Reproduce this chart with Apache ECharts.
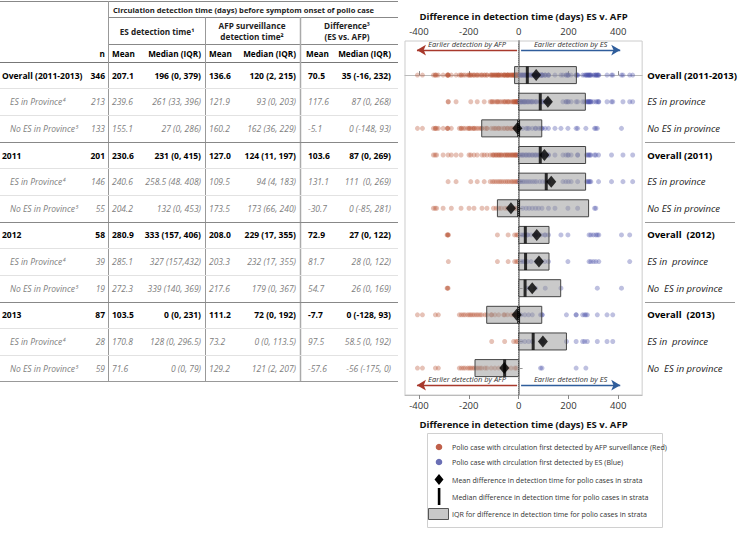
<!DOCTYPE html>
<html><head><meta charset="utf-8">
<script src="https://cdn.jsdelivr.net/npm/echarts@6/dist/echarts.min.js"></script>
<style>html,body{margin:0;padding:0;background:#fff}#c{width:740px;height:533px}</style>
</head><body><div id="c"></div>
<script>
// ---------------- DATA ----------------
const tableLabels = ['Overall (2011-2013)','ES in Province⁴','No ES in Province⁵','2011','ES in Province⁴','No ES in Province⁵','2012','ES in Province⁴','No ES in Province⁵','2013','ES in Province⁴','No ES in Province⁵'];
const isMainRow = [true,false,false,true,false,false,true,false,false,true,false,false];
const nValues = ['346','213','133','201','146','55','58','39','19','87','28','59'];
const esMean = ['207.1','239.6','155.1','230.6','240.6','204.2','280.9','285.1','272.3','103.5','170.8','71.6'];
const esMedianText = ['196 (0, 379)','261 (33, 396)','27 (0, 286)','231 (0, 415)','258.5 (48. 408)','132 (0, 453)','333 (157, 406)','327 (157,432)','339 (140, 369)','0 (0, 231)','128 (0, 296.5)','0 (0, 79)'];
const afpMean = ['136.6','121.9','160.2','127.0','109.5','173.5','208.0','203.3','217.6','111.2','73.2','129.2'];
const afpMedianText = ['120 (2, 215)','93 (0, 203)','162 (36, 229)','124 (11, 197)','94 (4, 183)','173 (66, 240)','229 (17, 355)','232 (17, 355)','179 (0, 367)','72 (0, 192)','0 (0, 113.5)','121 (2, 207)'];
const diffMeanText = ['70.5','117.6','-5.1','103.6','131.1','-30.7','72.9','81.7','54.7','-7.7','97.5','-57.6'];
const diffMedianText = ['35 (-16, 232)','87 (0, 268)','0 (-148, 93)','87 (0, 269)','111  (0, 269)','0 (-85, 281)','27 (0, 122)','28 (0, 122)','26 (0, 169)','0 (-128, 93)','58.5 (0, 192)','-56 (-175, 0)'];

const diffMean = [70.5,117.6,-5.1,103.6,131.1,-30.7,72.9,81.7,54.7,-7.7,97.5,-57.6];
const diffMedian = [35,87,0,87,111,0,27,28,26,0,58.5,-56];
const diffQ1 = [-16,0,-148,0,0,-85,0,0,0,-128,0,-175];
const diffQ3 = [232,268,93,269,269,281,122,122,169,93,192,0];

const plotLabels = ['Overall (2011-2013)','ES in province','No ES in province','Overall (2011)','ES in province','No ES in province','Overall  (2012)','ES in  province','No  ES in province','Overall  (2013)','ES in  province','No  ES in province'];
const xTicks = [-400,-200,0,200,400];

// individual case differences (days)
const es2011 = [-283,-251,-192,-166,-138,-114,-105,-98,-90,-82,-75,-68,-60,-52,-45,-38,-30,-24,-18,-12,-6,-3,3,8,15,22,30,38,46,55,64,72,85,96,108,120,178,190,200,211,237,272,278,282,286,290,321,373,419,458];
const noEs2011 = [-342,-335,-329,-303,-270,-231,-199,-179,-147,-127,-101,-90,-80,-70,-55,-45,-35,-25,-15,-10,16,30,42,55,68,80,94,120,146,198,237,305,310];
const es2012 = [-282,-85,-42,-16,-8,-3,10,18,25,35,50,70,90,105,120,198,283,290,300,310,322,446];
const noEs2012 = [-285,-283,-287,36,68,107,170,316,413];
const es2013 = [-108,-56,-20,-10,-4,10,25,40,55,95,192,231,257,265,276,316,355,378];
const noEs2013 = [-406,-386,-334,-322,-238,-230,-222,-215,-205,-198,-192,-185,-178,-170,-163,-155,-148,-135,-127,-110,-95,-80,-60,-45,-30,-15,-9,88,94,231,270];

const rowCases = [
  [].concat(es2011,noEs2011,es2012,noEs2012,es2013,noEs2013),
  [].concat(es2011,es2012,es2013),
  [].concat(noEs2011,noEs2012,noEs2013),
  [].concat(es2011,noEs2011), es2011, noEs2011,
  [].concat(es2012,noEs2012), es2012, noEs2012,
  [].concat(es2013,noEs2013), es2013, noEs2013
];

// ---------------- LAYOUT ----------------
const ROW0 = 75.1, STEP = 26.64;
const rowY = i => ROW0 + i*STEP;
const FONT = '"Open Sans","Noto Sans",sans-serif';
const G = [];
function T(x,y,text,o){o=o||{};G.push({type:'text',x:x,y:y,z:10,style:{text:text,fill:o.fill||'#000',
  font:(o.italic?'italic ':'')+(o.bold?'bold ':'')+(o.size||8.5)+'px '+FONT,align:o.align||'left',verticalAlign:'middle'}});}
function L(x1,y1,x2,y2,c,w){G.push({type:'line',z:5,shape:{x1:x1,y1:y1,x2:x2,y2:y2},style:{stroke:c||'#999',lineWidth:w||1}});}

// table header
L(0,1.5,398,1.5,'#888');
T(113,10,'Circulation detection time (days) before symptom onset of polio case',{bold:true,size:7.6,fill:'#222'});
L(108,17.5,398,17.5,'#888');
T(157,31,'ES detection time¹',{bold:true,size:8.2,align:'center',fill:'#222'});
T(252,25,'AFP surveillance',{bold:true,size:8.2,align:'center',fill:'#222'});
T(252,36,'detection time²',{bold:true,size:8.2,align:'center',fill:'#222'});
T(347,25,'Difference³',{bold:true,size:8.2,align:'center',fill:'#222'});
T(347,36,'(ES vs. AFP)',{bold:true,size:8.2,align:'center',fill:'#222'});
L(108,44.5,398,44.5,'#888');
T(105,53,'n',{bold:true,size:8.2,align:'right'});
T(112,53,'Mean',{bold:true,size:8.2});
T(201,53,'Median (IQR)',{bold:true,size:8.2,align:'right'});
T(209,53,'Mean',{bold:true,size:8.2});
T(296,53,'Median (IQR)',{bold:true,size:8.2,align:'right'});
T(306,53,'Mean',{bold:true,size:8.2});
T(391,53,'Median (IQR)',{bold:true,size:8.2,align:'right'});
L(0,62.5,398,62.5,'#777');
L(108.5,1,108.5,381,'#999');
L(205.5,17,205.5,381,'#999');
L(300.5,17,300.5,381,'#aaa',1.5);

// table rows
for(let i=0;i<12;i++){
  const y=rowY(i), m=isMainRow[i];
  const o={bold:m,italic:!m,fill:m?'#000':'#808080',size:8.5};
  T(m?2:10,y,tableLabels[i],o);
  T(105,y,nValues[i],Object.assign({align:'right'},o));
  T(112,y,esMean[i],o);
  T(201,y,esMedianText[i],Object.assign({align:'right'},o));
  T(209,y,afpMean[i],o);
  T(296,y,afpMedianText[i],Object.assign({align:'right'},o));
  T(308,y,diffMeanText[i],o);
  T(391,y,diffMedianText[i],Object.assign({align:'right'},o));
  if(i<11){
    const sy=Math.round(y+STEP/2)+0.5;
    const grp=(i===2||i===5||i===8);
    L(0,sy,398,sy,grp?'#888':'#e2e2e2',grp?1.2:1);
    if(grp) L(645,sy,735,sy,'#999',1.2);
  }
}
L(0,381.5,398,381.5,'#999');

// legend key
G.push({type:'rect',z:5,shape:{x:427.5,y:433.5,width:235,height:94},style:{fill:'#fff',stroke:'#d0d0d0',lineWidth:1}});
G.push({type:'circle',z:6,shape:{cx:439,cy:447,r:3.3},style:{fill:'#c0604a'}});
G.push({type:'circle',z:6,shape:{cx:439,cy:462,r:3.3},style:{fill:'#6a6fb5'}});
G.push({type:'polygon',z:6,shape:{points:[[439,474],[443.5,479.5],[439,485],[434.5,479.5]]},style:{fill:'#000'}});
G.push({type:'rect',z:6,shape:{x:437.8,y:488,width:2.6,height:17},style:{fill:'#000'}});
G.push({type:'rect',z:6,shape:{x:428.5,y:508.5,width:20,height:11},style:{fill:'#c8c8c8',stroke:'#555',lineWidth:1}});
const legendTexts=['Polio case with circulation first detected by AFP surveillance (Red)','Polio case with circulation first detected by ES (Blue)','Mean difference in detection time for polio cases in strata','Median difference in detection time for polio cases in strata','IQR for difference in detection time for polio cases in strata'];
[447,462,479.5,497,514].forEach((y,k)=>T(452,y,legendTexts[k],{size:7.1,fill:'#333'}));

// ---------------- SERIES DATA ----------------
const redPts=[], bluePts=[];
rowCases.forEach((arr,i)=>arr.forEach(v=>{ (v<0?redPts:bluePts).push([v,i]); }));
const boxData = diffQ1.map((q,i)=>[i,q,diffQ3[i]]);
const medData = diffMedian.map((v,i)=>[v,i]);
const meanData = diffMean.map((v,i)=>[v,i]);

const axisFont = {fontFamily:FONT,fontSize:9.5,color:'#333'};
const xCommon = {type:'value',min:-456,max:496,splitLine:{show:false},
  axisLine:{show:true,lineStyle:{color:'#bbb'}},
  axisTick:{show:true,customValues:xTicks,length:4,lineStyle:{color:'#888'}},
  axisLabel:Object.assign({customValues:xTicks,margin:5},axisFont),
  name:'Difference in detection time (days) ES v. AFP',nameLocation:'middle',
  nameTextStyle:{fontFamily:FONT,fontSize:9.5,fontWeight:'bold',color:'#111'}};

const chart = echarts.init(document.getElementById('c'),null,{renderer:'svg'});
chart.setOption({
  animation:false,
  grid:{left:405,top:41,width:238,height:354,show:true,borderColor:'#ccc',borderWidth:1,backgroundColor:'transparent'},
  xAxis:[Object.assign({},xCommon,{position:'top',nameGap:20}),Object.assign({},xCommon,{position:'bottom',nameGap:24})],
  yAxis:{type:'value',inverse:true,min:-1.28,max:12.01,position:'right',splitLine:{show:false},
    axisLine:{show:true,lineStyle:{color:'#a0a0a0',width:2}},
    axisTick:{show:true,customValues:[0,1,2,3,4,5,6,7,8,9,10,11],length:4,lineStyle:{color:'#999'}},
    axisLabel:{customValues:[0,1,2,3,4,5,6,7,8,9,10,11],margin:5,
      formatter:v=>{const i=Math.round(v);return (isMainRow[i]?'{b|':'{i|')+plotLabels[i]+'}';},
      rich:{b:{fontFamily:FONT,fontSize:9.5,fontWeight:'bold',color:'#000'},i:{fontFamily:FONT,fontSize:9.5,fontStyle:'italic',color:'#222'}}}},
  graphic:G,
  series:[
    {type:'scatter',name:'AFP first',xAxisIndex:0,data:redPts,symbolSize:5,z:2,
      itemStyle:{color:'rgba(185,85,55,0.45)'},
      markLine:{silent:true,symbol:'none',animation:false,
        data:[
          [{xAxis:0,y:44,symbol:'none'},{xAxis:0,y:395,symbol:'none'}],
          [{coord:[-408,-0.94],symbol:'arrow',symbolSize:[8,9]},{coord:[-6,-0.94],symbol:'none'}],
          [{coord:[10,-0.94],symbol:'none'},{coord:[408,-0.94],symbol:'arrow',symbolSize:[8,9]}],
          [{coord:[-408,11.64],symbol:'arrow',symbolSize:[8,9]},{coord:[-6,11.64],symbol:'none'}],
          [{coord:[10,11.64],symbol:'none'},{coord:[408,11.64],symbol:'arrow',symbolSize:[8,9]}]
        ].map((d,k)=>{
          if(k===0){d[0].lineStyle={type:'dotted',color:'#777',width:1};d[0].label={show:false};return d;}
          const red=(k%2===1);
          d[0].lineStyle={type:'solid',color:red?'#a8392c':'#2f5d9b',width:1.3};
          d[0].label={show:true,position:'insideMiddleTop',distance:2,formatter:red?'Earlier detection by AFP':'Earlier detection by ES',
            fontFamily:FONT,fontSize:7.5,fontStyle:'italic',color:'#333'};
          return d;
        })}},
    {type:'scatter',name:'ES first',xAxisIndex:0,data:bluePts,symbolSize:5,z:2,itemStyle:{color:'rgba(75,80,170,0.45)'}},
    {type:'custom',name:'IQR',xAxisIndex:0,data:boxData,z:3,encode:{x:[1,2],y:0},
      renderItem:(params,api)=>{const r=api.value(0);const p1=api.coord([api.value(1),r]);const p2=api.coord([api.value(2),r]);
        return {type:'rect',shape:{x:p1[0],y:p1[1]-8.5,width:p2[0]-p1[0],height:17},style:{fill:'rgba(150,150,150,0.5)',stroke:'#444',lineWidth:1}};}},
    {type:'scatter',name:'Median',xAxisIndex:0,data:medData,symbol:'rect',symbolSize:[3,17],z:4,itemStyle:{color:'#000'}},
    {type:'scatter',name:'Mean',xAxisIndex:0,data:meanData,symbol:'diamond',symbolSize:[10,12],z:5,itemStyle:{color:'#000'}}
  ]
});
</script></body></html>
